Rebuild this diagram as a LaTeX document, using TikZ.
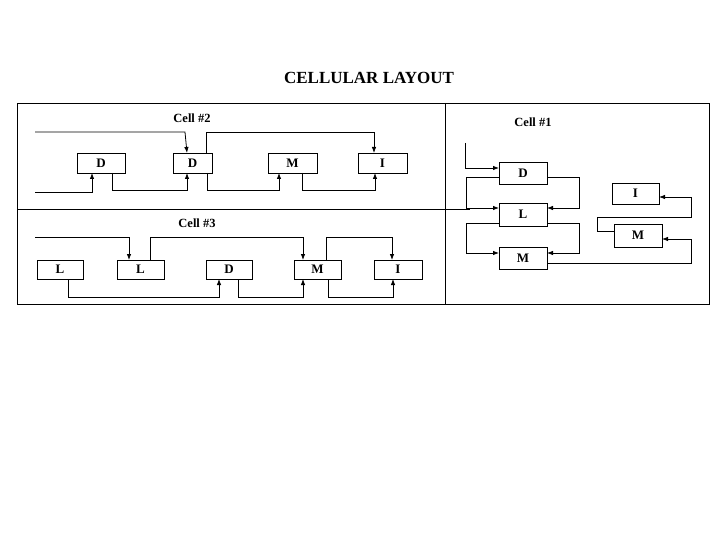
\documentclass[tikz,border=0pt]{standalone}
\usepackage{fontspec}
\setmainfont{Liberation Serif}
\usetikzlibrary{arrows.meta}
\begin{document}
\begin{tikzpicture}[x=1pt,y=-1pt,line width=0.8pt,
 bx/.style={draw,line width=0.8pt,inner sep=0pt,font=\bfseries\fontsize{13}{13}\selectfont},
 lab/.style={font=\bfseries\fontsize{12.5}{12.5}\selectfont},
 ar/.style={draw,line width=0.8pt,-{Latex[length=6pt,width=4.5pt]}}]
\useasboundingbox[fill=white] (0,0) rectangle (720,540);
\node[font=\bfseries\fontsize{17}{17}\selectfont] (title) at (369,78) {CELLULAR LAYOUT};
\draw (17,103) rectangle (709,304);
\draw (445,103) -- (445,304);
\draw (17,209) -- (470,209);
% cell 2
\node[lab] (c2) at (192,118) {Cell \#2};
\node[bx,minimum width=48pt,minimum height=20pt] (d1) at (101,163) {D};
\node[bx,minimum width=39pt,minimum height=20pt] (d2) at (192.5,163) {D};
\node[bx,minimum width=49pt,minimum height=20pt] (m2) at (292.5,163) {M};
\node[bx,minimum width=49pt,minimum height=20pt] (i2) at (382.5,163) {I};
\coordinate (s1) at (35,132);
\coordinate (s2) at (35,192);
\draw[ar] (s1) -- (185,132) -- (187,153);
\draw[ar] (206,153) -- (206,132) -- (374,132) -- (374,153);
\draw[ar] (s2) -- (92,192) -- (92,173);
\draw[ar] (112,173) -- (112,190) -- (187,190) -- (187,173);
\draw[ar] (207,173) -- (207,190) -- (279,190) -- (279,173);
\draw[ar] (302,173) -- (302,190) -- (375,190) -- (375,173);
% cell 3
\node[lab] (c3) at (197,223) {Cell \#3};
\node[bx,minimum width=46pt,minimum height=19pt] (l1) at (60,269.5) {L};
\node[bx,minimum width=47pt,minimum height=19pt] (l2) at (140.5,269.5) {L};
\node[bx,minimum width=46pt,minimum height=19pt] (d3) at (229,269.5) {D};
\node[bx,minimum width=47pt,minimum height=19pt] (m3) at (317.5,269.5) {M};
\node[bx,minimum width=48pt,minimum height=19pt] (i3) at (398,269.5) {I};
\coordinate (s3) at (35,237);
\draw[ar] (s3) -- (129,237) -- (129,260);
\draw[ar] (150,260) -- (150,237) -- (303,237) -- (303,260);
\draw[ar] (326,260) -- (326,237) -- (392,237) -- (392,260);
\draw[ar] (68,279) -- (68,297) -- (219,297) -- (219,279);
\draw[ar] (238,279) -- (238,297) -- (303,297) -- (303,279);
\draw[ar] (328,279) -- (328,297) -- (393,297) -- (393,279);
% cell 1
\node[lab] (c1) at (533,122) {Cell \#1};
\node[bx,minimum width=48pt,minimum height=22pt] (d4) at (523,173) {D};
\node[bx,minimum width=48pt,minimum height=23pt] (l4) at (523,214.5) {L};
\node[bx,minimum width=48pt,minimum height=22pt] (m4) at (523,258) {M};
\node[bx,minimum width=47pt,minimum height=21pt] (i4) at (635.5,193.5) {I};
\node[bx,minimum width=48pt,minimum height=23pt] (m5) at (638,235.5) {M};
\coordinate (s4) at (465,143);
\draw[ar] (s4) -- (465,168) -- (499,168);
\draw[ar] (499,177) -- (466,177) -- (466,208) -- (499,208);
\draw[ar] (547,177) -- (579,177) -- (579,208) -- (547,208);
\draw[ar] (499,223) -- (466,223) -- (466,253) -- (499,253);
\draw[ar] (547,223) -- (579,223) -- (579,253) -- (547,253);
\draw[ar] (547,263) -- (691,263) -- (691,239) -- (662,239);
\draw[ar] (614,231) -- (597,231) -- (597,217) -- (691,217) -- (691,197) -- (659,197);
\end{tikzpicture}
\end{document}
